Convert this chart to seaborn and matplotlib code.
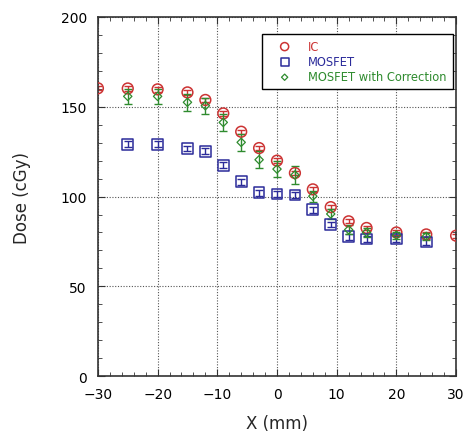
import numpy as np
import matplotlib
matplotlib.use("Agg")
import matplotlib.pyplot as plt
import seaborn as sns
from matplotlib.ticker import MultipleLocator

# posiciones (mm) y dosis
x_ic = [-30, -25, -20, -15, -12, -9, -6, -3, 0, 3, 6, 9, 12, 15, 20, 25, 30]
dose_ic = [160.3, 160.2, 159.7, 158.0, 153.8, 146.3, 136.1, 127.0, 120.0, 113.1,
           104.0, 94.1, 86.2, 82.5, 80.0, 78.9, 78.2]
err_ic = [1.2, 1.2, 1.2, 1.2, 1.2, 1.2, 1.2, 1.2, 1.2, 1.2, 1.2, 1.2, 1.2, 1.2, 1.2, 1.2, 1.2]

x_mos = [-25, -20, -15, -12, -9, -6, -3, 0, 3, 6, 9, 12, 15, 20, 25]
dose_mos = [129.2, 129.2, 126.8, 125.2, 117.5, 108.3, 102.1, 101.4, 100.8, 92.7,
            84.5, 77.6, 76.3, 76.3, 74.7]
err_mos = [1.6, 1.6, 1.6, 1.6, 1.6, 1.6, 1.6, 1.6, 1.6, 1.6, 1.6, 1.6, 1.6, 1.6, 1.6]

x_cor = [-25, -20, -15, -12, -9, -6, -3, 0, 3, 6, 9, 12, 15, 20, 25]
dose_cor = [155.8, 155.8, 152.5, 150.6, 141.3, 130.2, 120.5, 115.3, 112.0, 100.2,
            90.3, 81.5, 80.0, 78.5, 77.8]
err_cor = [4.0, 4.0, 4.6, 4.5, 4.8, 4.7, 4.8, 4.6, 5.0, 3.0, 3.0, 2.5, 2.5, 2.0, 2.0]

c_ic = "#cc3333"
c_mos = "#2b2b9a"
c_cor = "#2e8b2e"

sns.set_style("ticks")
plt.rcParams['font.family'] = ['DejaVu Sans']

fig = plt.figure(figsize=(4.64, 4.39), dpi=100)
ax = fig.add_axes([0.211, 0.141, 0.772, 0.818])

# barras de error
ax.errorbar(x_ic, dose_ic, yerr=err_ic, fmt="none", ecolor=c_ic, elinewidth=1, capsize=3, zorder=2)
ax.errorbar(x_mos, dose_mos, yerr=err_mos, fmt="none", ecolor=c_mos, elinewidth=1, capsize=3, zorder=2)
ax.errorbar(x_cor, dose_cor, yerr=err_cor, fmt="none", ecolor=c_cor, elinewidth=1, capsize=3, zorder=2)

# marcadores
sns.scatterplot(x=x_ic, y=dose_ic, marker="o", s=60, facecolor="none", edgecolor=c_ic,
                linewidth=1.1, label="IC", ax=ax, zorder=3)
sns.scatterplot(x=x_mos, y=dose_mos, marker="s", s=60, facecolor="none", edgecolor=c_mos,
                linewidth=1.1, label="MOSFET", ax=ax, zorder=3)
sns.scatterplot(x=x_cor, y=dose_cor, marker="D", s=18, facecolor="none", edgecolor=c_cor,
                linewidth=0.9, label="MOSFET with Correction", ax=ax, zorder=3)

ax.set_xlim(-30, 30)
ax.set_ylim(0, 200)
ax.xaxis.set_major_locator(MultipleLocator(10))
ax.xaxis.set_minor_locator(MultipleLocator(2))
ax.yaxis.set_major_locator(MultipleLocator(50))
ax.yaxis.set_minor_locator(MultipleLocator(10))
ax.tick_params(which="both", direction="in", top=True, right=True, colors="#333333",
               labelcolor="black", labelsize=10)
ax.tick_params(which="major", length=5, pad=8)
ax.tick_params(which="minor", length=3)
ax.grid(True, which="major", linestyle=(0, (1, 1.5)), color="#555555", linewidth=0.8)
for sp in ax.spines.values():
    sp.set_color("#333333")
    sp.set_linewidth(1.2)

ax.set_xlabel("X (mm)", fontsize=12, labelpad=9)
ax.set_ylabel("Dose (cGy)", fontsize=12, labelpad=21)

leg = ax.legend(loc="upper right", bbox_to_anchor=(0.99, 0.953), borderaxespad=0,
                fontsize=8.3, frameon=True, fancybox=False, edgecolor="black", framealpha=1,
                markerscale=0.75, handlelength=3.0, handletextpad=0.55,
                borderpad=0.5, labelspacing=0.2)
leg.get_frame().set_linewidth(1.0)
for t, c in zip(leg.get_texts(), [c_ic, c_mos, c_cor]):
    t.set_color(c)

fig.savefig("out.png", dpi=100)
